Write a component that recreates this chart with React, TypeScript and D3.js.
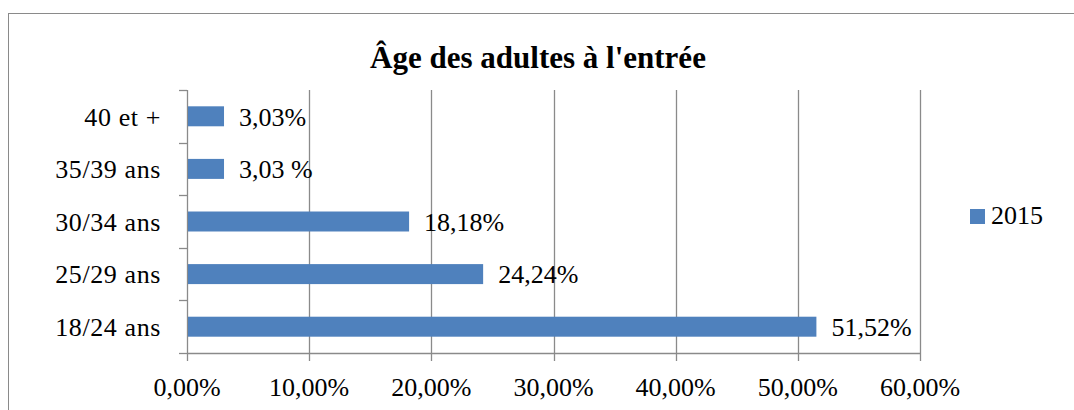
import React, { useEffect, useRef } from "react";
import * as d3 from "d3";

const categories = ["40 et +", "35/39 ans", "30/34 ans", "25/29 ans", "18/24 ans"];
const values = [3.03, 3.03, 18.18, 24.24, 51.52];
const valueLabels = ["3,03%", "3,03 %", "18,18%", "24,24%", "51,52%"];
const xTicks = [0, 10, 20, 30, 40, 50, 60];
const seriesName = "2015";
const title = "Âge des adultes à l'entrée";

const App = () => {
  const chartRef = useRef<SVGSVGElement>(null);

  useEffect(() => {
    const width = 1074;
    const height = 410;
    const left = 187;
    const right = 920;
    const top = 90;
    const bottom = 353;
    const font = "'Liberation Serif', 'Times New Roman', serif";
    const gridColor = "#8a8a8a";
    const barColor = "#4f81bd";

    const svg = d3.select(chartRef.current);
    svg.selectAll("*").remove();
    svg.attr("width", width).attr("height", height);

    // chart frame
    svg
      .append("rect")
      .attr("x", 8.5)
      .attr("y", 13.5)
      .attr("width", 1100)
      .attr("height", 450)
      .attr("fill", "white")
      .attr("stroke", gridColor)
      .attr("stroke-width", 1);

    svg
      .append("text")
      .attr("x", 538)
      .attr("y", 68)
      .attr("text-anchor", "middle")
      .style("font-family", font)
      .style("font-weight", "bold")
      .style("font-size", "31px")
      .text(title);

    const x = d3.scaleLinear().domain([0, 60]).range([left, right]);
    const y = d3.scaleBand().domain(categories).range([top, bottom]).paddingInner(0.62).paddingOuter(0.31);
    const bandStep = (bottom - top) / categories.length;

    // gridlines
    svg
      .append("g")
      .selectAll("line")
      .data(xTicks.slice(1))
      .enter()
      .append("line")
      .attr("x1", (d) => Math.round(x(d)) + 0.5)
      .attr("x2", (d) => Math.round(x(d)) + 0.5)
      .attr("y1", top)
      .attr("y2", bottom + 8)
      .attr("stroke", gridColor)
      .attr("stroke-width", 1.3);

    // y axis line + ticks at band boundaries
    svg
      .append("line")
      .attr("x1", left + 0.5)
      .attr("x2", left + 0.5)
      .attr("y1", top)
      .attr("y2", bottom + 8)
      .attr("stroke", gridColor)
      .attr("stroke-width", 1.3);

    svg
      .append("g")
      .selectAll("line")
      .data(d3.range(categories.length + 1))
      .enter()
      .append("line")
      .attr("x1", left - 8)
      .attr("x2", left)
      .attr("y1", (i) => Math.round(top + i * bandStep) + 0.5)
      .attr("y2", (i) => Math.round(top + i * bandStep) + 0.5)
      .attr("stroke", gridColor)
      .attr("stroke-width", 1.3);

    // x axis baseline
    svg
      .append("line")
      .attr("x1", left)
      .attr("x2", right + 1)
      .attr("y1", bottom + 0.5)
      .attr("y2", bottom + 0.5)
      .attr("stroke", gridColor)
      .attr("stroke-width", 1.3);

    // x tick labels
    svg
      .append("g")
      .selectAll("text")
      .data(xTicks)
      .enter()
      .append("text")
      .attr("x", (d) => x(d))
      .attr("y", 396)
      .attr("text-anchor", "middle")
      .style("font-family", font)
      .style("font-size", "26px")
      .text((d) => d.toFixed(2).replace(".", ",") + "%");

    // category labels
    svg
      .append("g")
      .selectAll("text")
      .data(categories)
      .enter()
      .append("text")
      .attr("x", 161)
      .attr("y", (d) => y(d)! + y.bandwidth() / 2)
      .attr("dy", "0.36em")
      .attr("text-anchor", "end")
      .style("font-family", font)
      .style("font-size", "26px")
      .style("letter-spacing", "0.6px")
      .text((d) => d);

    // bars
    svg
      .append("g")
      .selectAll("rect")
      .data(values)
      .enter()
      .append("rect")
      .attr("x", left + 1)
      .attr("y", (d, i) => y(categories[i])!)
      .attr("width", (d) => x(d) - left - 1)
      .attr("height", y.bandwidth())
      .attr("fill", barColor);

    // value labels
    svg
      .append("g")
      .selectAll("text")
      .data(values)
      .enter()
      .append("text")
      .attr("x", (d) => x(d) + 15)
      .attr("y", (d, i) => y(categories[i])! + y.bandwidth() / 2)
      .attr("dy", "0.36em")
      .style("font-family", font)
      .style("font-size", "26px")
      .text((d, i) => valueLabels[i]);

    // legend
    svg
      .append("rect")
      .attr("x", 970)
      .attr("y", 209)
      .attr("width", 15)
      .attr("height", 15)
      .attr("fill", barColor);

    svg
      .append("text")
      .attr("x", 991)
      .attr("y", 224)
      .style("font-family", font)
      .style("font-size", "26px")
      .text(seriesName);
  }, []);

  return <svg ref={chartRef} style={{ position: "absolute", left: 0, top: 0 }}></svg>;
};

export default App;
